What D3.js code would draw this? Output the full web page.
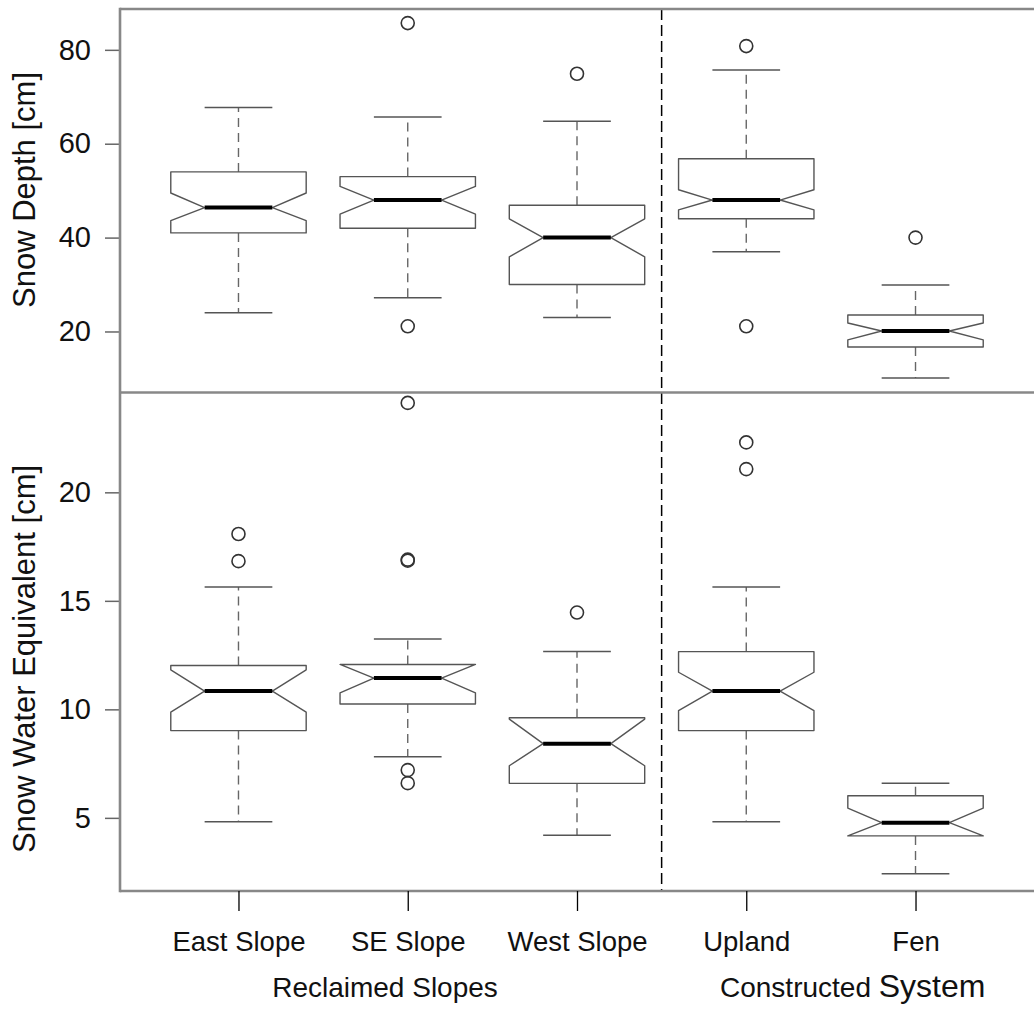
<!DOCTYPE html>
<html>
<head>
<meta charset="utf-8">
<script src="https://cdn.jsdelivr.net/npm/d3@7"></script>
<style>
  html, body { margin: 0; padding: 0; background: #fff; }
  svg { display: block; font-family: "Liberation Sans", Arial, Helvetica, sans-serif; }
</style>
</head>
<body>
<svg id="chart" width="1034" height="1012"></svg>
<script>
// Sites, grouped into reclaimed slopes and the constructed fen system
const categories = ["East Slope", "SE Slope", "West Slope", "Upland", "Fen"];

// Snow depth [cm]: notched box-plot statistics per site
const depthLowerWhisker = [24.0, 27.2, 23.0, 37.0, 10.1];
const depthQ1           = [41.0, 42.0, 30.0, 44.0, 16.7];
const depthNotchLow     = [43.6, 45.0, 35.9, 45.9, 18.2];
const depthMedian       = [46.4, 48.0, 40.0, 48.0, 20.1];
const depthNotchHigh    = [49.5, 50.9, 44.0, 50.2, 21.8];
const depthQ3           = [54.0, 53.0, 46.9, 56.8, 23.5];
const depthUpperWhisker = [67.7, 65.7, 64.8, 75.7, 29.9];
const depthOutliers     = [[], [85.7, 21.1], [74.9], [80.8, 21.1], [40.0]];
const depthTicks        = [20, 40, 60, 80];

// Snow water equivalent [cm]
const sweLowerWhisker = [4.82, 7.82, 4.20, 4.82, 2.43];
const sweQ1           = [9.02, 10.25, 6.59, 9.02, 4.17];
const sweNotchLow     = [9.87, 10.76, 7.40, 9.94, 4.17];
const sweMedian       = [10.84, 11.44, 8.42, 10.84, 4.78];
const sweNotchHigh    = [11.82, 12.07, 9.55, 11.71, 5.45];
const sweQ3           = [12.02, 12.07, 9.61, 12.66, 6.02];
const sweUpperWhisker = [15.64, 13.24, 12.66, 15.64, 6.60];
const sweOutliers     = [[18.08, 16.83], [24.12, 16.85, 16.9, 7.2, 6.6], [14.46], [22.3, 21.07], []];
const sweTicks        = [5, 10, 15, 20];

// ---- layout ----
const plotLeft = 120, plotRight = 1034;
const topY0 = 9, midY = 392.5, botY1 = 891;

const svg = d3.select("#chart");

const x = d3.scalePoint()
  .domain(categories)
  .range([plotLeft, plotRight])
  .padding(0.7);
const step = x.step();
const halfBox = step * 0.4;
const halfStaple = step * 0.2;

const yDepth = d3.scaleLinear().domain([7.0, 88.7]).range([midY, topY0]);
const ySwe = d3.scaleLinear().domain([1.63, 24.6]).range([botY1, midY]);

function buildStats(lw, q1, nl, md, nh, q3, uw, out) {
  return categories.map((c, i) => ({
    cat: c, lw: lw[i], q1: q1[i], nl: nl[i], md: md[i], nh: nh[i], q3: q3[i], uw: uw[i], out: out[i]
  }));
}

const depthStats = buildStats(depthLowerWhisker, depthQ1, depthNotchLow, depthMedian,
  depthNotchHigh, depthQ3, depthUpperWhisker, depthOutliers);
const sweStats = buildStats(sweLowerWhisker, sweQ1, sweNotchLow, sweMedian,
  sweNotchHigh, sweQ3, sweUpperWhisker, sweOutliers);

function drawPanel(stats, y, ticks) {
  const g = svg.append("g");

  // y axis ticks and labels
  const axis = d3.axisLeft(y).tickValues(ticks).tickSize(15).tickSizeOuter(0).tickPadding(14);
  const ax = g.append("g").attr("transform", `translate(${plotLeft},0)`).call(axis);
  ax.select(".domain").remove();
  ax.selectAll(".tick line").attr("stroke", "#666").attr("stroke-width", 1.5);
  ax.selectAll(".tick text")
    .attr("font-size", 29)
    .attr("fill", "#111")
    .attr("font-family", "'Liberation Sans', Arial, Helvetica, sans-serif");

  const box = g.selectAll("g.box").data(stats).join("g").attr("class", "box");

  // dashed whiskers
  box.append("line")
    .attr("x1", d => x(d.cat)).attr("x2", d => x(d.cat))
    .attr("y1", d => y(d.q3)).attr("y2", d => y(d.uw))
    .attr("stroke", "#666").attr("stroke-width", 1.4).attr("stroke-dasharray", "9,6");
  box.append("line")
    .attr("x1", d => x(d.cat)).attr("x2", d => x(d.cat))
    .attr("y1", d => y(d.q1)).attr("y2", d => y(d.lw))
    .attr("stroke", "#666").attr("stroke-width", 1.4).attr("stroke-dasharray", "9,6");

  // staples
  [d => d.uw, d => d.lw].forEach(acc => {
    box.append("line")
      .attr("x1", d => x(d.cat) - halfStaple).attr("x2", d => x(d.cat) + halfStaple)
      .attr("y1", d => y(acc(d))).attr("y2", d => y(acc(d)))
      .attr("stroke", "#555").attr("stroke-width", 1.5);
  });

  // notched box outline
  box.append("path")
    .attr("d", d => {
      const cx = x(d.cat);
      const pts = [
        [cx - halfBox, y(d.q1)], [cx - halfBox, y(d.nl)], [cx - halfBox / 2, y(d.md)],
        [cx - halfBox, y(d.nh)], [cx - halfBox, y(d.q3)], [cx + halfBox, y(d.q3)],
        [cx + halfBox, y(d.nh)], [cx + halfBox / 2, y(d.md)], [cx + halfBox, y(d.nl)],
        [cx + halfBox, y(d.q1)]
      ];
      return d3.line()(pts) + "Z";
    })
    .attr("fill", "#fff").attr("stroke", "#555").attr("stroke-width", 1.4)
    .attr("stroke-linejoin", "round");

  // median
  box.append("line")
    .attr("x1", d => x(d.cat) - halfBox / 2).attr("x2", d => x(d.cat) + halfBox / 2)
    .attr("y1", d => y(d.md)).attr("y2", d => y(d.md))
    .attr("stroke", "#000").attr("stroke-width", 4);

  // outliers
  box.selectAll("circle").data(d => d.out.map(v => ({ cat: d.cat, v }))).join("circle")
    .attr("cx", d => x(d.cat)).attr("cy", d => y(d.v)).attr("r", 6.5)
    .attr("fill", "none").attr("stroke", "#333").attr("stroke-width", 1.6);
}

drawPanel(depthStats, yDepth, depthTicks);
drawPanel(sweStats, ySwe, sweTicks);

// separator between reclaimed slopes and constructed system
const sepX = (x("West Slope") + x("Upland")) / 2;
svg.append("line")
  .attr("x1", sepX).attr("x2", sepX).attr("y1", topY0).attr("y2", botY1)
  .attr("stroke", "#000").attr("stroke-width", 1.5).attr("stroke-dasharray", "11,5");

// panel frame
const frame = svg.append("g").attr("stroke", "#888").attr("stroke-width", 2.6).attr("fill", "none");
[topY0, midY, botY1].forEach(yy => {
  frame.append("line").attr("x1", plotLeft).attr("x2", plotRight).attr("y1", yy).attr("y2", yy);
});
frame.append("line").attr("x1", plotLeft).attr("x2", plotLeft).attr("y1", topY0 - 1.3).attr("y2", botY1 + 1.3);

// x axis
const xAxis = d3.axisBottom(x).tickSize(20).tickSizeOuter(0).tickPadding(20);
const xg = svg.append("g").attr("transform", `translate(0,${botY1})`).call(xAxis);
xg.select(".domain").remove();
xg.selectAll(".tick line").attr("stroke", "#000").attr("stroke-width", 1.3);
xg.selectAll(".tick text")
  .attr("font-size", 27.5)
  .attr("fill", "#111")
  .attr("font-family", "'Liberation Sans', Arial, Helvetica, sans-serif");

// group labels
svg.append("text")
  .attr("x", 385).attr("y", 997).attr("text-anchor", "middle")
  .attr("font-size", 28).attr("fill", "#111")
  .text("Reclaimed Slopes");
const cs = svg.append("text")
  .attr("x", 720).attr("y", 997).attr("text-anchor", "start").attr("fill", "#111");
cs.append("tspan").attr("font-size", 28).text("Constructed ");
cs.append("tspan").attr("font-size", 32).text("System");

// y axis titles
svg.append("text")
  .attr("transform", "translate(35,190) rotate(-90)")
  .attr("text-anchor", "middle").attr("font-size", 31).attr("fill", "#111")
  .text("Snow Depth [cm]");
svg.append("text")
  .attr("transform", "translate(35,659) rotate(-90)")
  .attr("text-anchor", "middle").attr("font-size", 31).attr("fill", "#111")
  .text("Snow Water Equivalent [cm]");
</script>
</body>
</html>
